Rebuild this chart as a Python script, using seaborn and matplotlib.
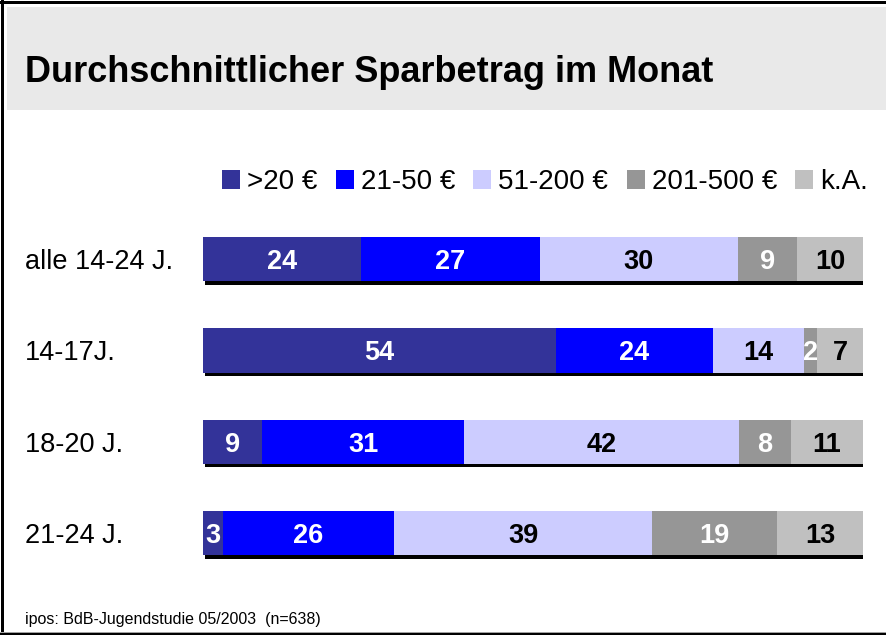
import numpy as np
import pandas as pd
import matplotlib
matplotlib.use("Agg")
import matplotlib.pyplot as plt
import matplotlib.patheffects as pe
from matplotlib.patches import Rectangle, Patch
import seaborn as sns

# ---- data ----
groups = ["alle 14-24 J.", "14-17J.", "18-20 J.", "21-24 J."]
series = [">20 €", "21-50 €", "51-200 €", "201-500 €", "k.A."]
v_upto20 = [24, 54, 9, 3]
v_21_50 = [27, 24, 31, 26]
v_51_200 = [30, 14, 42, 39]
v_201_500 = [9, 2, 8, 19]
v_ka = [10, 7, 11, 13]

title = "Durchschnittlicher Sparbetrag im Monat"
footer = "ipos: BdB-Jugendstudie 05/2003  (n=638)"

colors = ["#333399", "#0000FF", "#CCCCFF", "#969696", "#C0C0C0"]
text_colors = ["white", "white", "black", "white", "black"]

sns.set_style("white")
plt.rcParams["font.family"] = ["Liberation Sans", "DejaVu Sans"]
plt.rcParams["text.color"] = "black"
plt.rcParams["ytick.color"] = "black"
plt.rcParams["ytick.labelcolor"] = "black"
plt.rcParams["axes.labelcolor"] = "black"

df = pd.DataFrame({"group": groups,
                   series[0]: v_upto20, series[1]: v_21_50,
                   series[2]: v_51_200, series[3]: v_201_500,
                   series[4]: v_ka})
totals = df[series].sum(axis=1)
share = df[series].div(totals, axis=0) * 100
cum = share.cumsum(axis=1)

W, H = 887, 635
fig = plt.figure(figsize=(W / 100, H / 100), dpi=100)
fig.patch.set_facecolor("white")

# title band and frame
fig.patches.append(Rectangle((7 / W, 1 - 110 / H), 880 / W, 103 / H,
                             transform=fig.transFigure, facecolor="#E9E9E9",
                             edgecolor="none", zorder=0))
fig.patches.append(Rectangle((0, 1 - 4 / H), 1, 3 / H, transform=fig.transFigure,
                             facecolor="black", edgecolor="none", zorder=1))
fig.patches.append(Rectangle((1 / W, 0), 3.5 / W, 1, transform=fig.transFigure,
                             facecolor="black", edgecolor="none", zorder=1))
fig.patches.append(Rectangle((0, 0), 1, 2 / H, transform=fig.transFigure,
                             facecolor="black", edgecolor="none", zorder=1))
fig.patches.append(Rectangle((0, 2 / H), 1, 1.2 / H, transform=fig.transFigure,
                             facecolor="#A0A0A0", edgecolor="none", zorder=1))

fig.text(25 / W, 1 - 82 / H, title, fontsize=26, fontweight="bold",
         ha="left", va="baseline", color="black")
fig.text(25 / W, 1 - 624 / H, footer, fontsize=11.5, ha="left",
         va="baseline", color="black")

ax = fig.add_axes([203 / W, 0.0887, 660 / W, 0.5753])
ax.set_facecolor("none")

for k, i in enumerate(reversed(range(len(series)))):
    n_before = len(ax.patches)
    sns.barplot(x=cum[series[i]].values, y=df["group"].values, orient="h",
                color=colors[i], saturation=1, width=0.485, ax=ax,
                edgecolor="none", linewidth=0, errorbar=None)
    if k == 0:
        for p in ax.patches[n_before:]:
            p.set_path_effects([pe.SimplePatchShadow(offset=(1.5, -2.6),
                                                     shadow_rgbFace="black",
                                                     alpha=1.0),
                                pe.Normal()])

for j in range(len(groups)):
    for i, s in enumerate(series):
        center = cum.loc[j, s] - share.loc[j, s] / 2
        ax.text(center, j, str(df.loc[j, s]), ha="center", va="center_baseline",
                fontsize=19.5, fontweight="bold", color=text_colors[i])

ax.set_xlim(0, 100)
ax.set_ylim(3.5, -0.5)
ax.set_xticks([])
ax.set_xlabel("")
ax.set_ylabel("")
for sp in ax.spines.values():
    sp.set_visible(False)
ax.tick_params(axis="y", length=0, pad=178 * 0.72, labelsize=19.5,
               labelcolor="black")
for lbl in ax.get_yticklabels():
    lbl.set_ha("left")

handles = [Patch(facecolor=c, edgecolor="none", label=s)
           for c, s in zip(colors, series)]
leg = fig.legend(handles=handles, loc="center right",
                 bbox_to_anchor=(868 / W, 1 - 182 / H), ncol=5, frameon=False,
                 fontsize=20, handlelength=0.65, handleheight=0.65,
                 handletextpad=0.25, columnspacing=0.66, borderpad=0,
                 borderaxespad=0)
for t in leg.get_texts():
    t.set_color("black")

fig.savefig("out.png", dpi=100)
